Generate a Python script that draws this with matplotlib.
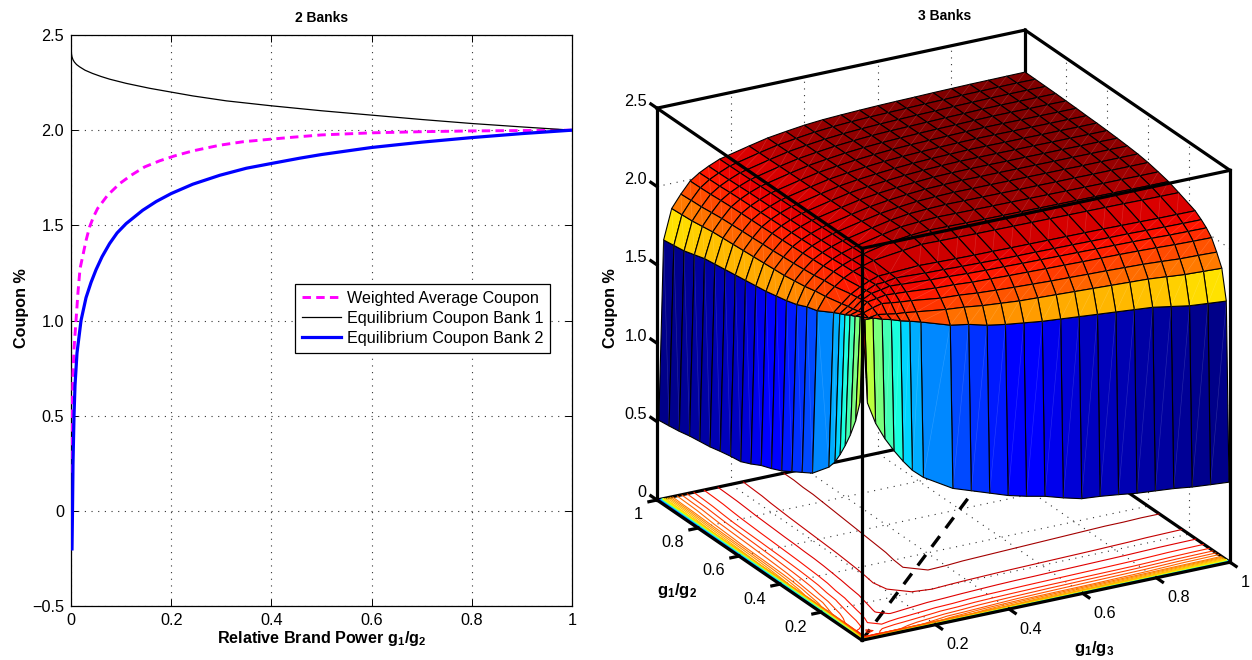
import numpy as np
import matplotlib
matplotlib.use("Agg")
import matplotlib.pyplot as plt
from matplotlib import colors as mcolors
from mpl_toolkits.mplot3d import proj3d
from mpl_toolkits.mplot3d.art3d import Line3DCollection

plt.rcParams['font.family'] = ['Liberation Sans', 'DejaVu Sans']
plt.rcParams['mathtext.fontset'] = 'custom'
plt.rcParams['mathtext.rm'] = 'Liberation Sans'
plt.rcParams['mathtext.bf'] = 'Liberation Sans:bold'
plt.rcParams['mathtext.it'] = 'Liberation Sans:italic'

# ---- left panel data
bank1_x = [0.0005, 0.001, 0.002, 0.004, 0.0067, 0.011, 0.017, 0.028, 0.043, 0.06, 0.077, 0.11, 0.157, 0.2, 0.243, 0.31, 0.4, 0.5, 0.6, 0.7, 0.8, 0.9, 1.0]
bank1_y = [2.415, 2.40, 2.385, 2.37, 2.358, 2.345, 2.333, 2.315, 2.298, 2.282, 2.268, 2.246, 2.22, 2.2, 2.18, 2.154, 2.128, 2.102, 2.079, 2.056, 2.035, 2.017, 2.0]
wavg_x = [0.001, 0.002, 0.004, 0.006, 0.01, 0.014, 0.018, 0.023, 0.03, 0.037, 0.045, 0.053, 0.073, 0.097, 0.12, 0.147, 0.177, 0.207, 0.243, 0.297, 0.343, 0.4, 0.443, 0.5, 0.6, 0.7, 0.8, 0.9, 1.0]
wavg_y = [0.2, 0.45, 0.72, 0.85, 1.0, 1.15, 1.272, 1.333, 1.42, 1.491, 1.545, 1.588, 1.658, 1.719, 1.763, 1.807, 1.839, 1.865, 1.891, 1.921, 1.939, 1.953, 1.963, 1.975, 1.986, 1.992, 1.996, 1.998, 2.0]
bank2_x = [0.002, 0.003, 0.004, 0.006, 0.008, 0.012, 0.02, 0.03, 0.04, 0.05, 0.062, 0.077, 0.092, 0.11, 0.143, 0.17, 0.2, 0.243, 0.297, 0.35, 0.4, 0.457, 0.5, 0.6, 0.7, 0.8, 0.9, 1.0]
bank2_y = [-0.2, 0.0, 0.25, 0.5, 0.66, 0.83, 1.0, 1.12, 1.2, 1.267, 1.335, 1.404, 1.46, 1.509, 1.579, 1.625, 1.667, 1.716, 1.763, 1.8, 1.825, 1.853, 1.872, 1.909, 1.937, 1.961, 1.982, 2.0]
xticks2 = [0, 0.2, 0.4, 0.6, 0.8, 1]
xticklabels2 = ['0', '0.2', '0.4', '0.6', '0.8', '1']
yticks2 = [-0.5, 0, 0.5, 1, 1.5, 2, 2.5]
yticklabels2 = ['\u22120.5', '0', '0.5', '1.0', '1.5', '2.0', '2.5']

# ---- right panel data: symmetric surface, upper triangle rows
nodes = [0.005, 0.018, 0.04, 0.065, 0.09, 0.115, 0.14, 0.17, 0.25, 0.3, 0.35, 0.4, 0.45, 0.5,
         0.55, 0.6, 0.65, 0.7, 0.75, 0.8, 0.85, 0.9, 0.95, 1.0]
upper = [
 [2.03, 1.50, 1.36, 1.25, 1.16, 1.08, 1.01, .95, .84, .80, .76, .72, .69, .665, .63, .60, .59, .576, .56, .55, .54, .525, .515, .506],
 [2.02, 2.02, 2.00, 1.985, 1.965, 1.95, 1.93, 1.87, 1.85, 1.82, 1.80, 1.785, 1.77, 1.76, 1.75, 1.74, 1.73, 1.72, 1.71, 1.69, 1.67, 1.66, 1.65],
 [2.0, 2.01, 2.0, 1.99, 1.985, 1.975, 1.95, 1.94, 1.925, 1.915, 1.905, 1.90, 1.895, 1.89, 1.885, 1.88, 1.875, 1.87, 1.86, 1.85, 1.845, 1.84],
 [2.03, 2.045, 2.037, 2.03, 2.024, 2.0, 1.994, 1.983, 1.976, 1.97, 1.965, 1.96, 1.957, 1.953, 1.95, 1.946, 1.942, 1.935, 1.927, 1.924, 1.92],
 [2.055, 2.065, 2.061, 2.057, 2.042, 2.038, 2.03, 2.026, 2.022, 2.019, 2.016, 2.014, 2.011, 2.009, 2.007, 2.004, 2.0, 1.995, 1.992, 1.99],
 [2.075, 2.087, 2.083, 2.072, 2.068, 2.062, 2.058, 2.056, 2.053, 2.051, 2.049, 2.047, 2.045, 2.043, 2.041, 2.038, 2.034, 2.032, 2.03],
 [2.09, 2.102, 2.093, 2.09, 2.086, 2.083, 2.08, 2.078, 2.077, 2.075, 2.074, 2.072, 2.07, 2.069, 2.066, 2.063, 2.061, 2.06],
 [2.105, 2.114, 2.111, 2.108, 2.106, 2.105, 2.103, 2.102, 2.101, 2.1, 2.099, 2.098, 2.096, 2.094, 2.092, 2.091, 2.09],
 [2.138, 2.152, 2.15, 2.148, 2.146, 2.145, 2.144, 2.143, 2.142, 2.141, 2.14, 2.139, 2.138, 2.136, 2.135, 2.134],
 [2.166, 2.174, 2.172, 2.17, 2.169, 2.168, 2.167, 2.166, 2.165, 2.164, 2.163, 2.162, 2.161, 2.16, 2.16],
 [2.182, 2.188, 2.186, 2.185, 2.184, 2.183, 2.182, 2.181, 2.18, 2.179, 2.178, 2.178, 2.177, 2.177],
 [2.194, 2.198, 2.197, 2.196, 2.195, 2.194, 2.194, 2.193, 2.193, 2.192, 2.192, 2.192, 2.192],
 [2.203, 2.206, 2.205, 2.205, 2.204, 2.204, 2.203, 2.203, 2.202, 2.202, 2.202, 2.202],
 [2.21, 2.213, 2.212, 2.212, 2.211, 2.211, 2.21, 2.21, 2.209, 2.209, 2.208],
 [2.216, 2.217, 2.217, 2.216, 2.216, 2.215, 2.215, 2.214, 2.214, 2.213],
 [2.22, 2.22, 2.22, 2.219, 2.219, 2.218, 2.218, 2.217, 2.217],
 [2.223, 2.223, 2.222, 2.222, 2.221, 2.221, 2.22, 2.22],
 [2.225, 2.225, 2.224, 2.224, 2.223, 2.223, 2.222],
 [2.227, 2.227, 2.226, 2.226, 2.225, 2.225],
 [2.229, 2.229, 2.228, 2.228, 2.227],
 [2.23, 2.23, 2.229, 2.229],
 [2.231, 2.231, 2.23],
 [2.232, 2.231],
 [2.232],
]
contour_levels = [0.525, 0.565, 0.605, 0.645, 0.685, 0.725, 0.765, 0.805, 0.845, 0.885, 0.925, 0.965, 1.005, 1.045, 1.085, 1.125,
                  1.165, 1.205, 1.245, 1.285, 1.325, 1.365, 1.405, 1.445, 1.485, 1.525, 1.565, 1.605, 1.645, 1.685, 1.725, 1.765,
                  1.805, 1.845, 1.885, 1.925, 1.965, 2.005, 2.045, 2.085, 2.125, 2.175]
zticks3 = [0, 0.5, 1.0, 1.5, 2.0, 2.5]
zticklabels3 = ['0', '0.5', '1.0', '1.5', '2.0', '2.5']
xyticks3 = [0.2, 0.4, 0.6, 0.8]
xyticklabels3 = ['0.2', '0.4', '0.6', '0.8']

W, H = 1252, 660
fig = plt.figure(figsize=(W / 100, H / 100), dpi=100, facecolor='white')

# ---------------- left panel
ax = fig.add_axes([71 / W, 1 - 606 / H, 501 / W, 571 / H])
ax.plot(wavg_x, wavg_y, color='#ff00ff', lw=2.1, ls=(0, (2.9, 1.8)), label='Weighted Average Coupon', zorder=3)
ax.plot(bank1_x, bank1_y, color='k', lw=0.9, label='Equilibrium Coupon Bank 1', zorder=3)
ax.plot(bank2_x, bank2_y, color='#0000ff', lw=2.3, label='Equilibrium Coupon Bank 2', zorder=4)
ax.set_xlim(0, 1)
ax.set_ylim(-0.5, 2.5)
ax.set_xticks(xticks2, xticklabels2)
ax.set_yticks(yticks2, yticklabels2)
ax.tick_params(direction='in', top=True, right=True, length=5, width=0.7, labelsize=11.7, pad=5)
ax.grid(True, color='#333333', lw=0.8, ls=(0, (1, 5)))
ax.set_axisbelow(True)
for s in ax.spines.values():
    s.set_linewidth(0.9)
fig.text(322 / W, 1 - 638 / H, r'Relative Brand Power $\mathbf{g_1/g_2}$', ha='center', va='center', fontsize=11.6, fontweight='bold')
fig.text(22 / W, 1 - 308 / H, 'Coupon %', rotation=90, ha='center', va='center', fontsize=11.6, fontweight='bold')
fig.text(322 / W, 1 - 18 / H, '2 Banks', ha='center', va='center', fontsize=10, fontweight='bold')
leg = ax.legend(loc='upper left', bbox_to_anchor=((295 - 71) / 501, (606 - 284) / 571), borderaxespad=0,
                fontsize=11.6, fancybox=False, edgecolor='k', framealpha=1, handlelength=2.46,
                labelspacing=0.32, borderpad=0.42, handletextpad=0.32)
leg.get_frame().set_linewidth(0.9)

# ---------------- right panel
node_arr = np.array(nodes)
Z = np.zeros((len(nodes), len(nodes)))
for i, row in enumerate(upper):
    for j, val in enumerate(row):
        Z[i, i + j] = val
        Z[i + j, i] = val
X, Y = np.meshgrid(node_arr, node_arr)

S0 = 640
ax3 = fig.add_axes([0.5, 0.05, S0 / W, S0 / H], projection='3d', proj_type='ortho', computed_zorder=False)
ax3.set_xticks([])
ax3.set_yticks([])
ax3.set_zticks([])
ax3.set_axis_off()
ax3.patch.set_alpha(0)
ax3.view_init(elev=22.4, azim=-119.1)
ax3.set_box_aspect((1, 1, 1.006))
ax3.set_xlim(0, 1)
ax3.set_ylim(0, 1)
ax3.set_zlim(0, 2.5)


def corner_px(x, y, z):
    ax3.apply_aspect()
    u, v, _ = proj3d.proj_transform(x, y, z, ax3.get_proj())
    p = ax3.transData.transform((u, v))
    return p[0], H - p[1]


x_l = corner_px(0, 1, 0)[0]
x_r = corner_px(1, 0, 0)[0]
S1 = S0 * (1230 - 657) / (x_r - x_l)
ax3.set_position([0.5, 0.05, S1 / W, S1 / H])
x_l, y_l = corner_px(0, 1, 0)
dx = 657 - x_l
dy = 500 - y_l
ax3.set_position([0.5 + dx / W, 0.05 - dy / H, S1 / W, S1 / H])

norm = mcolors.Normalize(vmin=0.5, vmax=2.23)
cmap = plt.get_cmap('jet')

thick = 2.3
dot = (0, (1, 5))
gc = '#333333'
# back wall and floor grid
for t in xyticks3:
    ax3.plot([t, t], [1, 1], [0, 2.5], color=gc, lw=0.8, ls=dot, zorder=1)
    ax3.plot([1, 1], [t, t], [0, 2.5], color=gc, lw=0.8, ls=dot, zorder=1)
    ax3.plot([t, t], [0, 1], [0, 0], color=gc, lw=0.8, ls=dot, zorder=1)
    ax3.plot([0, 1], [t, t], [0, 0], color=gc, lw=0.8, ls=dot, zorder=1)
for t in zticks3[1:-1]:
    ax3.plot([0, 1], [1, 1], [t, t], color=gc, lw=0.8, ls=dot, zorder=1)
    ax3.plot([1, 1], [0, 1], [t, t], color=gc, lw=0.8, ls=dot, zorder=1)
# back edges, hidden by the surface
ax3.plot([0, 1], [1, 1], [0, 0], color='k', lw=thick, zorder=2)
ax3.plot([1, 1], [0, 1], [0, 0], color='k', lw=thick, zorder=2)
ax3.plot([1, 1], [1, 1], [0, 2.5], color='k', lw=thick, zorder=2)
ax3.plot([0, 1], [0, 1], [0, 0], color='k', lw=2.4, ls=(0, (4, 3)), zorder=2)
ax3.contour(X, Y, Z, levels=contour_levels, zdir='z', offset=0, cmap=cmap, norm=norm, linewidths=0.8, zorder=2.5)

ax3.plot_surface(X, Y, Z, facecolors=cmap(norm(Z)), rstride=1, cstride=1, shade=False,
                 edgecolor='k', linewidth=0.8, antialiased=True, zorder=3)

# faint seams across the surface cells
P = np.stack([X, Y, Z], axis=-1)
seams = np.stack([P[:-1, :-1].reshape(-1, 3), P[1:, 1:].reshape(-1, 3)], axis=1)
ax3.add_collection3d(Line3DCollection(seams, colors=[(1, 1, 1, 0.16)], linewidths=0.45, zorder=3.5))

# front edges over the surface
edges = [([0, 1], [0, 0], [0, 0]), ([0, 0], [0, 1], [0, 0]),
         ([0, 1], [0, 0], [2.5, 2.5]), ([0, 0], [0, 1], [2.5, 2.5]),
         ([0, 1], [1, 1], [2.5, 2.5]), ([1, 1], [0, 1], [2.5, 2.5]),
         ([0, 0], [0, 0], [0, 2.5]), ([0, 0], [1, 1], [0, 2.5]), ([1, 1], [0, 0], [0, 2.5])]
for ex, ey, ez in edges:
    ax3.plot(ex, ey, ez, color='k', lw=thick, zorder=5, solid_capstyle='projecting')

# ticks and tick labels
fs = 11.7


def label3d(x, y, z, s, ha, shift=0):
    px, py = corner_px(x, y, z)
    fig.text((px + shift) / W, 1 - py / H, s, ha=ha, va='center', fontsize=fs)


for t, lab in zip(zticks3, zticklabels3):
    ax3.plot([0, 0], [1, 1.03], [t, t], color='k', lw=thick, zorder=5)
    label3d(0, 1.05, t, lab, 'right')
for t, lab in zip(xyticks3 + [1], xyticklabels3 + ['1']):
    ax3.plot([-0.022, 0], [t, t], [0, 0], color='k', lw=thick, zorder=5)
    ax3.plot([t, t], [-0.03, 0], [0, 0], color='k', lw=thick, zorder=5)
    label3d(-0.07, t, -0.06, lab, 'right', 12)
    label3d(t, -0.11, -0.03, lab, 'left', -12)

fig.text(945 / W, 1 - 16 / H, '3 Banks', ha='center', va='center', fontsize=10, fontweight='bold')
fig.text(610 / W, 1 - 308 / H, 'Coupon %', rotation=90, ha='center', va='center', fontsize=11.6, fontweight='bold')
fig.text(677 / W, 1 - 590 / H, r'$\mathbf{g_1/g_2}$', ha='center', va='center', fontsize=12)
fig.text(1094 / W, 1 - 648 / H, r'$\mathbf{g_1/g_3}$', ha='center', va='center', fontsize=12)

fig.savefig('out.png', dpi=100)
